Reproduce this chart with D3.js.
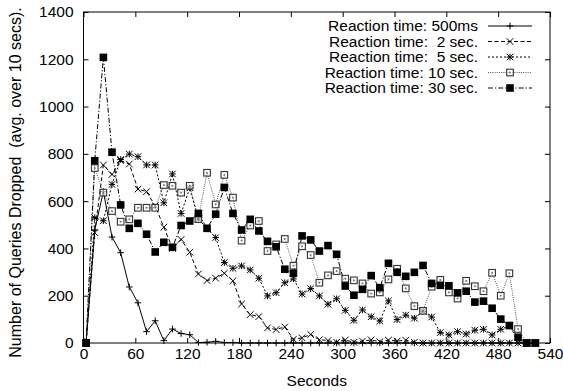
<!DOCTYPE html>
<html><head><meta charset="utf-8">
<script src="https://cdn.jsdelivr.net/npm/d3@7/dist/d3.min.js"></script>
<style>
body{margin:0;background:#fff}
svg{display:block}
text{font-family:"Liberation Sans",Arial,Helvetica,sans-serif;fill:#000;white-space:pre}
</style>
</head><body>
<svg id="chart" width="563" height="391"></svg>
<script>
// ---- data ----
const seconds = [3,13,23,33,43,53,63,73,83,93,103,113,123,133,143,153,163,173,183,193,203,213,223,233,243,253,263,273,283,293,303,313,323,333,343,353,363,373,383,393,403,413,423,433,443,453,463,473,483,493,503,513,523];
const xTickValues = [0,60,120,180,240,300,360,420,480,540];
const yTickValues = [0,200,400,600,800,1000,1200,1400];
const seriesLabels = ["Reaction time: 500ms","Reaction time:  2 sec.","Reaction time:  5 sec.","Reaction time: 10 sec.","Reaction time: 30 sec."];

const rt500ms = [0,478,640,448,382,237,170,48,94,10,59,40,35,2,3,7,2,2,0,0,0,0,0,0,0,0,0,0,0,0,0,0,0,0,0,0,0,0,0,0,0,0,0,0,0,0,0,0,0,0,0,0,0];
const rt2s = [0,467,753,713,772,757,651,640,580,490,400,438,384,292,264,274,295,263,165,120,112,64,57,68,16,22,36,14,10,3,13,3,8,13,5,12,8,12,3,0,0,0,0,0,0,0,0,0,0,0,0,0,0];
const rt5s = [0,530,517,671,776,799,788,753,753,593,715,548,656,524,485,446,340,316,326,309,274,199,213,255,271,207,230,199,164,187,138,96,140,111,93,178,99,118,105,134,110,44,34,48,38,54,58,34,58,72,13,0,0];
const rt10s = [0,740,636,558,513,523,572,572,572,668,665,636,665,524,720,586,711,615,433,497,516,389,417,440,327,409,372,255,286,304,272,265,252,209,214,269,314,231,156,136,238,267,214,188,263,240,219,297,200,295,59,0,0];
const rt30s = [0,771,1208,807,584,485,506,460,385,426,405,497,516,548,485,545,658,548,478,523,474,430,407,312,295,453,436,389,412,375,241,202,227,285,234,337,299,282,299,328,252,244,242,212,219,173,177,147,101,74,24,0,0];

const seriesValues = [rt500ms, rt2s, rt5s, rt10s, rt30s];
const styles = [
  {dash:null, color:"#000", marker:"plus"},
  {dash:"4,2.5", color:"#000", marker:"cross"},
  {dash:"2,2", color:"#000", marker:"star"},
  {dash:"1,1.2", color:"#555", marker:"square"},
  {dash:"5,2,1.2,2", color:"#000", marker:"filled"}
];

// ---- layout ----
const svg = d3.select("#chart");
const L = 83.5, R = 550, T = 12, B = 343;
const x = d3.scaleLinear().domain([0,540]).range([L,R]);
const y = d3.scaleLinear().domain([0,1400]).range([B,T]);

function markerPath(type, cx, cy){
  const s = 3.3;
  if(type==="plus") return `M${cx-s},${cy}H${cx+s}M${cx},${cy-s}V${cy+s}`;
  if(type==="cross") return `M${cx-s},${cy-s}L${cx+s},${cy+s}M${cx-s},${cy+s}L${cx+s},${cy-s}`;
  if(type==="star") return `M${cx-s},${cy}H${cx+s}M${cx},${cy-s}V${cy+s}M${cx-s},${cy-s}L${cx+s},${cy+s}M${cx-s},${cy+s}L${cx+s},${cy-s}`;
  return null;
}
function drawMarker(g, type, cx, cy){
  if(type==="square"){
    g.append("rect").attr("x",cx-3.3).attr("y",cy-3.3).attr("width",6.6).attr("height",6.6)
      .attr("fill","#fff").attr("fill-opacity",0.6).attr("stroke","#333").attr("stroke-width",1.1);
    g.append("rect").attr("x",cx-0.8).attr("y",cy-0.8).attr("width",1.6).attr("height",1.6).attr("fill","#666");
  } else if(type==="filled"){
    g.append("rect").attr("x",cx-3.8).attr("y",cy-3.8).attr("width",7.6).attr("height",7.6).attr("fill","#000");
  } else {
    g.append("path").attr("d",markerPath(type,cx,cy)).attr("stroke","#000").attr("stroke-width",1).attr("fill","none");
  }
}

// axes
const fmt = d => String(d);
const gx = svg.append("g").attr("transform",`translate(0,${B})`)
  .call(d3.axisBottom(x).tickValues(xTickValues).tickSizeInner(-5).tickSizeOuter(0).tickPadding(5).tickFormat(fmt));
const gxt = svg.append("g").attr("transform",`translate(0,${T})`)
  .call(d3.axisTop(x).tickValues(xTickValues).tickSizeInner(-5).tickSizeOuter(0).tickFormat(""));
const gy = svg.append("g").attr("transform",`translate(${L},0)`)
  .call(d3.axisLeft(y).tickValues(yTickValues).tickSizeInner(-5).tickSizeOuter(0).tickPadding(10).tickFormat(fmt));
const gyr = svg.append("g").attr("transform",`translate(${R},0)`)
  .call(d3.axisRight(y).tickValues(yTickValues).tickSizeInner(-5).tickSizeOuter(0).tickFormat(""));
[gx,gxt,gy,gyr].forEach(g=>{
  g.select(".domain").remove();
  g.selectAll("line").attr("stroke","#000");
  g.selectAll("text").style("font-size","15.5px").style("font-family",'"Liberation Sans",Arial,sans-serif');
});

// series
const lineGen = d3.line().x((d,i)=>x(seconds[i])).y(d=>y(d));
const plot = svg.append("g");
seriesValues.forEach((vals,k)=>{
  const st = styles[k];
  plot.append("path").datum(vals).attr("d",lineGen).attr("fill","none")
    .attr("stroke",st.color).attr("stroke-width",1)
    .attr("stroke-dasharray",st.dash);
});
seriesValues.forEach((vals,k)=>{
  const g = plot.append("g");
  vals.forEach((v,i)=>drawMarker(g, styles[k].marker, x(seconds[i]), y(v)));
});

// frame
svg.append("rect").attr("x",L).attr("y",T).attr("width",R-L).attr("height",B-T)
  .attr("fill","none").attr("stroke","#000").attr("stroke-width",1);

// legend
const lg = svg.append("g");
const rowY = [26,41.5,57,72.5,88];
seriesLabels.forEach((lab,k)=>{
  const st = styles[k];
  lg.append("text").attr("x",478).attr("y",rowY[k]).attr("dy","0.35em")
    .attr("text-anchor","end").attr("xml:space","preserve").style("font-size","15.5px").text(lab);
  lg.append("line").attr("x1",488).attr("x2",532).attr("y1",rowY[k]).attr("y2",rowY[k])
    .attr("stroke",st.color).attr("stroke-width",1).attr("stroke-dasharray",st.dash);
  drawMarker(lg, st.marker, 510, rowY[k]);
});

// axis labels
svg.append("text").attr("x",(L+R)/2).attr("y",381).attr("dy","0.35em").attr("text-anchor","middle")
  .style("font-size","15.5px").text("Seconds");
svg.append("text").attr("transform",`translate(15,${(T+B)/2+5}) rotate(-90)`).attr("dy","0.35em")
  .attr("text-anchor","middle").attr("xml:space","preserve").style("font-size","16px").text("Number of Queries Dropped  (avg. over 10 secs).");
</script>
</body></html>
